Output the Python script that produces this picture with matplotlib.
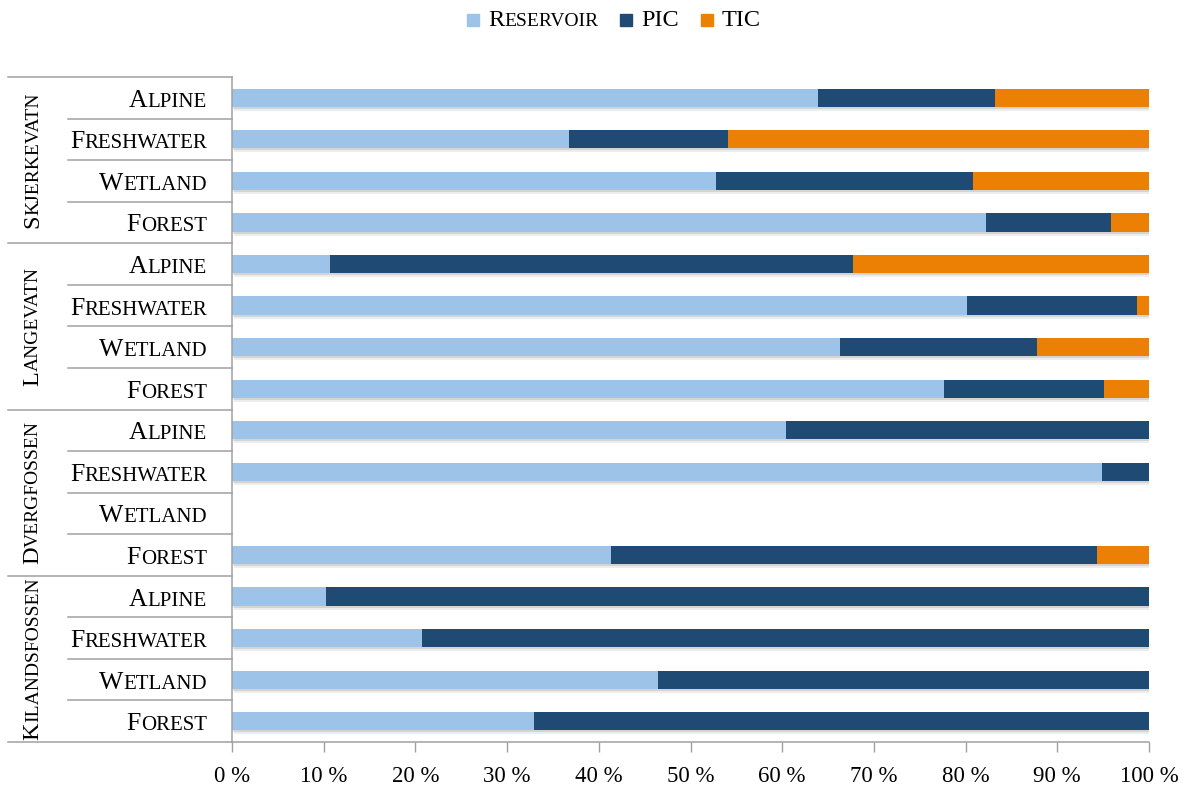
import matplotlib
matplotlib.use("Agg")
import matplotlib.pyplot as plt
from matplotlib.patches import Rectangle
from matplotlib.transforms import IdentityTransform, offset_copy
import numpy as np

# data (percent of total)
groups = ["Skjerkevatn", "Langevatn", "Dvergfossen", "Kilandsfossen"]
categories = ["Alpine", "Freshwater", "Wetland", "Forest"]
reservoir = [63.9, 36.7, 52.8, 82.2, 10.7, 80.2, 66.3, 77.6,
             60.4, 94.9, 0.0, 41.3, 10.3, 20.7, 46.5, 32.9]
pic = [19.3, 17.4, 28.0, 13.7, 57.0, 18.5, 21.5, 17.5,
       39.6, 5.1, 0.0, 53.0, 89.7, 79.3, 53.5, 67.1]
tic = [16.8, 45.9, 19.2, 4.1, 32.3, 1.3, 12.2, 4.9,
       0.0, 0.0, 0.0, 5.7, 0.0, 0.0, 0.0, 0.0]
series_names = ["Reservoir", "PIC", "TIC"]
colors = ["#9dc3e8", "#1e4a73", "#ec8005"]
xticks = list(range(0, 101, 10))

W, H = 1196, 789
SERIF = "Liberation Serif"
BIG, SMALL = 18.5, 15
GRAY = "#a0a0a0"

fig = plt.figure(figsize=(W / 100, H / 100), dpi=100)
ax = fig.add_axes([232 / W, (H - 742) / H, 917 / W, 665 / H])

n = len(groups) * len(categories)
y = np.arange(n)
vals = np.array([reservoir, pic, tic])
left = np.zeros(n)

# soft shadow under the bars
for dx, dy, a in [(1, -2, 0.10), (2, -4, 0.07)]:
    shadow_tr = offset_copy(ax.transData, fig=fig, x=dx, y=dy, units="dots")
    ax.barh(y, vals.sum(axis=0), height=0.44, color="black", alpha=a,
            transform=shadow_tr, zorder=1)

for v, c in zip(vals, colors):
    ax.barh(y, v, left=left, height=0.44, color=c, zorder=2)
    left += v

ax.set_xlim(0, 100)
ax.set_ylim(n - 0.5, -0.5)
ax.set_xticks(xticks)
ax.set_xticklabels([f"{t} %" for t in xticks], family=SERIF, fontsize=16.5)
ax.tick_params(axis="x", length=7, width=1, color=GRAY, pad=10)
ax.set_yticks([])
for s in ["top", "right"]:
    ax.spines[s].set_visible(False)
for s in ["left", "bottom"]:
    ax.spines[s].set_color(GRAY)
    ax.spines[s].set_linewidth(1.1)

# separators of the two-level category axis
ytr = ax.get_yaxis_transform()
x_cat = (68 - 232) / 917
x_grp = (8 - 232) / 917
for b in np.arange(-0.5, n, 1.0):
    x0 = x_grp if (b + 0.5) % len(categories) == 0 else x_cat
    ax.plot([x0, 0], [b, b], color=GRAY, lw=1.1, transform=ytr, clip_on=False)

renderer = fig.canvas.get_renderer()


def width_of(s, size):
    t = fig.text(0, 0, s, size=size, family=SERIF)
    w = t.get_window_extent(renderer).width
    t.remove()
    return w


def small_caps(x, y, word, ha="right", rot=0, big=BIG, small=SMALL):
    # x, y in display pixels, y is baseline (or centre along the text when rotated)
    first, rest = word[0], word[1:].upper()
    w1, w2 = width_of(first, big), width_of(rest, small)
    total = w1 + w2
    kw = dict(family=SERIF, rotation=rot, rotation_mode="anchor",
              ha="left", va="baseline", transform=IdentityTransform())
    if rot == 0:
        start = x - total if ha == "right" else x
        fig.text(start, y, first, size=big, **kw)
        fig.text(start + w1, y, rest, size=small, **kw)
    else:
        start = y - total / 2
        fig.text(x, start, first, size=big, **kw)
        fig.text(x, start + w1, rest, size=small, **kw)
    return total


for gi, g in enumerate(groups):
    for ci, c in enumerate(categories):
        i = gi * len(categories) + ci
        yd = ax.transData.transform((0, i))[1]
        small_caps(207, yd - 9, c)
    yc = ax.transData.transform((0, gi * len(categories) + 1.5))[1]
    small_caps(38, yc, g, rot=90, big=17.5, small=14)

# legend drawn by hand so the labels can be in small caps
lx, base = 467, H - 26
for name, col in zip(series_names, colors):
    fig.patches.append(Rectangle((lx, base), 12, 12, color=col,
                                 transform=IdentityTransform(), figure=fig))
    lx += 21
    if name.isupper():
        fig.text(lx, base, name, size=17.5, family=SERIF, va="baseline",
                 transform=IdentityTransform())
        lx += width_of(name, 17.5)
    else:
        lx += small_caps(lx, base, name, ha="left", big=17.5, small=14)
    lx += 22

fig.savefig("out.png", dpi=100)
